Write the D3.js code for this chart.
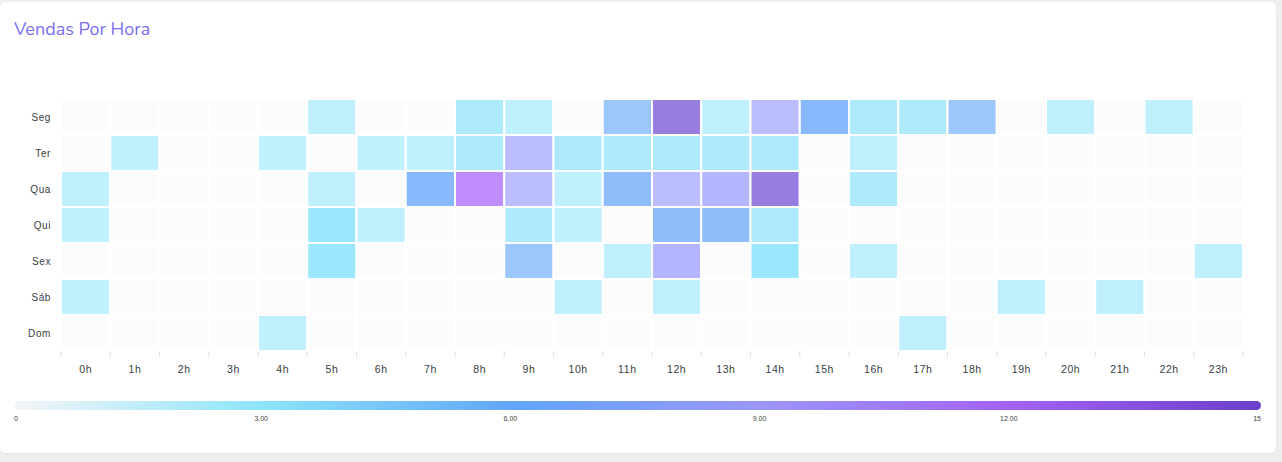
<!DOCTYPE html>
<html>
<head>
<meta charset="utf-8">
<script src="https://cdn.jsdelivr.net/npm/d3@7"></script>
<style>
  html, body { margin: 0; padding: 0; background: #efefef; }
  body { width: 1282px; height: 462px; overflow: hidden; position: relative; }
  #card { position: absolute; left: 0; top: 2px; width: 1276px; height: 451px; background: #fff;
          border-radius: 5px; box-shadow: 0 1px 3px rgba(0,0,0,0.06); }
  svg { position: absolute; left: 0; top: 0; }
</style>
</head>
<body>
<div id="card"></div>
<script>
// ---- data ----
const days = ["Seg", "Ter", "Qua", "Qui", "Sex", "Sáb", "Dom"];
const hours = ["0h","1h","2h","3h","4h","5h","6h","7h","8h","9h","10h","11h","12h","13h","14h","15h","16h","17h","18h","19h","20h","21h","22h","23h"];
const seg = [0,0,0,0,0,2,0,0,3,2,0,5,14,2,8,7,3,3,5,0,2,0,2,0];
const ter = [0,2,0,0,2,0,2,2,3,8,3,3,3,3,3,0,2,0,0,0,0,0,0,0];
const qua = [2,0,0,0,0,2,0,7,12,8,2,6,8,9,14,0,3,0,0,0,0,0,0,0];
const qui = [2,0,0,0,0,4,2,0,0,3,2,0,6,6,3,0,0,0,0,0,0,0,0,0];
const sex = [0,0,0,0,0,4,0,0,0,5,0,2,9,0,4,0,2,0,0,0,0,0,0,2];
const sab = [2,0,0,0,0,0,0,0,0,0,2,0,2,0,0,0,0,0,0,2,0,2,0,0];
const dom = [0,0,0,0,2,0,0,0,0,0,0,0,0,0,0,0,0,2,0,0,0,0,0,0];
const seriesValues = [seg, ter, qua, qui, sex, sab, dom];
const cellLevels = [0, 2, 3, 4, 5, 6, 7, 8, 9, 12, 14];
const cellColors = ["#fcfcfc","#c0f0fe","#aeeafc","#9be7fd","#9bc7fd","#8fbcfb","#87b9fc","#bbbdff","#b3b5ff","#bf8dfc","#977de0"];
const legendTicks = [0, 3, 6, 9, 12, 15];
const legendTickLabels = ["0", "3.00", "6.00", "9.00", "12.00", "15"];
const legendColors = ["#f4f5f7", "#8ce4fb", "#61a6fa", "#9b96fb", "#a461f6", "#6b3fcb"];
const title = "Vendas Por Hora";

// ---- chart ----
const W = 1282, H = 462;
const svg = d3.select("body").append("svg").attr("width", W).attr("height", H);

svg.append("text").attr("x", 14).attr("y", 35)
  .attr("font-family", "Nunito, 'Noto Sans', sans-serif").attr("font-size", 18)
  .attr("fill", "#7a6ff0").text(title);

const x = d3.scaleBand().domain(hours).range([61, 1243]);
const y = d3.scaleBand().domain(days).range([99, 351]);
const color = d3.scaleOrdinal().domain(cellLevels).range(cellColors);

const cells = [];
days.forEach((d, i) => hours.forEach((h, j) => cells.push({ day: d, hour: h, v: seriesValues[i][j] })));

svg.append("g").selectAll("rect").data(cells).join("rect")
  .attr("x", d => x(d.hour)).attr("y", d => y(d.day))
  .attr("width", x.bandwidth()).attr("height", y.bandwidth())
  .attr("fill", d => color(d.v))
  .attr("stroke", "#fff").attr("stroke-width", 2);

// y labels
svg.append("g").selectAll("text").data(days).join("text")
  .attr("x", 51).attr("y", d => y(d) + y.bandwidth() / 2 + 3.5)
  .attr("text-anchor", "end")
  .attr("font-family", "'Liberation Sans', Arial, sans-serif").attr("font-size", 10)
  .attr("letter-spacing", 0.6)
  .attr("fill", "#373d3f").text(d => d);

// x axis
const xAxis = d3.axisBottom(x).tickSize(0).tickPadding(0);
const gx = svg.append("g").attr("transform", "translate(0,352)").call(xAxis);
gx.select(".domain").remove();
gx.selectAll("text").attr("y", 21).attr("dy", 0)
  .attr("font-family", "'Liberation Sans', Arial, sans-serif").attr("font-size", 10.5)
  .attr("letter-spacing", 0.6)
  .attr("fill", "#373d3f");
// boundary ticks
const bounds = hours.map(h => x(h)).concat([x.range()[1]]);
svg.append("g").selectAll("line").data(bounds).join("line")
  .attr("x1", d => d).attr("x2", d => d).attr("y1", 352).attr("y2", 357)
  .attr("stroke", "#e0e0e0").attr("stroke-width", 1);

// legend
const lx = d3.scaleLinear().domain([0, 15]).range([12, 1258]);
const defs = svg.append("defs");
const grad = defs.append("linearGradient").attr("id", "lg").attr("x1", "0%").attr("x2", "100%");
grad.selectAll("stop").data(legendTicks).join("stop")
  .attr("offset", d => (d / 15 * 100) + "%")
  .attr("stop-color", (d, i) => legendColors[i]);
svg.append("rect").attr("x", 14).attr("y", 401).attr("width", 1247).attr("height", 9)
  .attr("rx", 4.5).attr("fill", "url(#lg)");
svg.append("g").selectAll("text").data(legendTicks).join("text")
  .attr("x", (d, i) => i === 0 ? 14 : (i === legendTicks.length - 1 ? 1261 : lx(d)))
  .attr("y", 421)
  .attr("text-anchor", (d, i) => i === 0 ? "start" : (i === legendTicks.length - 1 ? "end" : "middle"))
  .attr("font-family", "'Liberation Sans', Arial, sans-serif").attr("font-size", 7)
  .attr("fill", "#444").text((d, i) => legendTickLabels[i]);
</script>
</body>
</html>
